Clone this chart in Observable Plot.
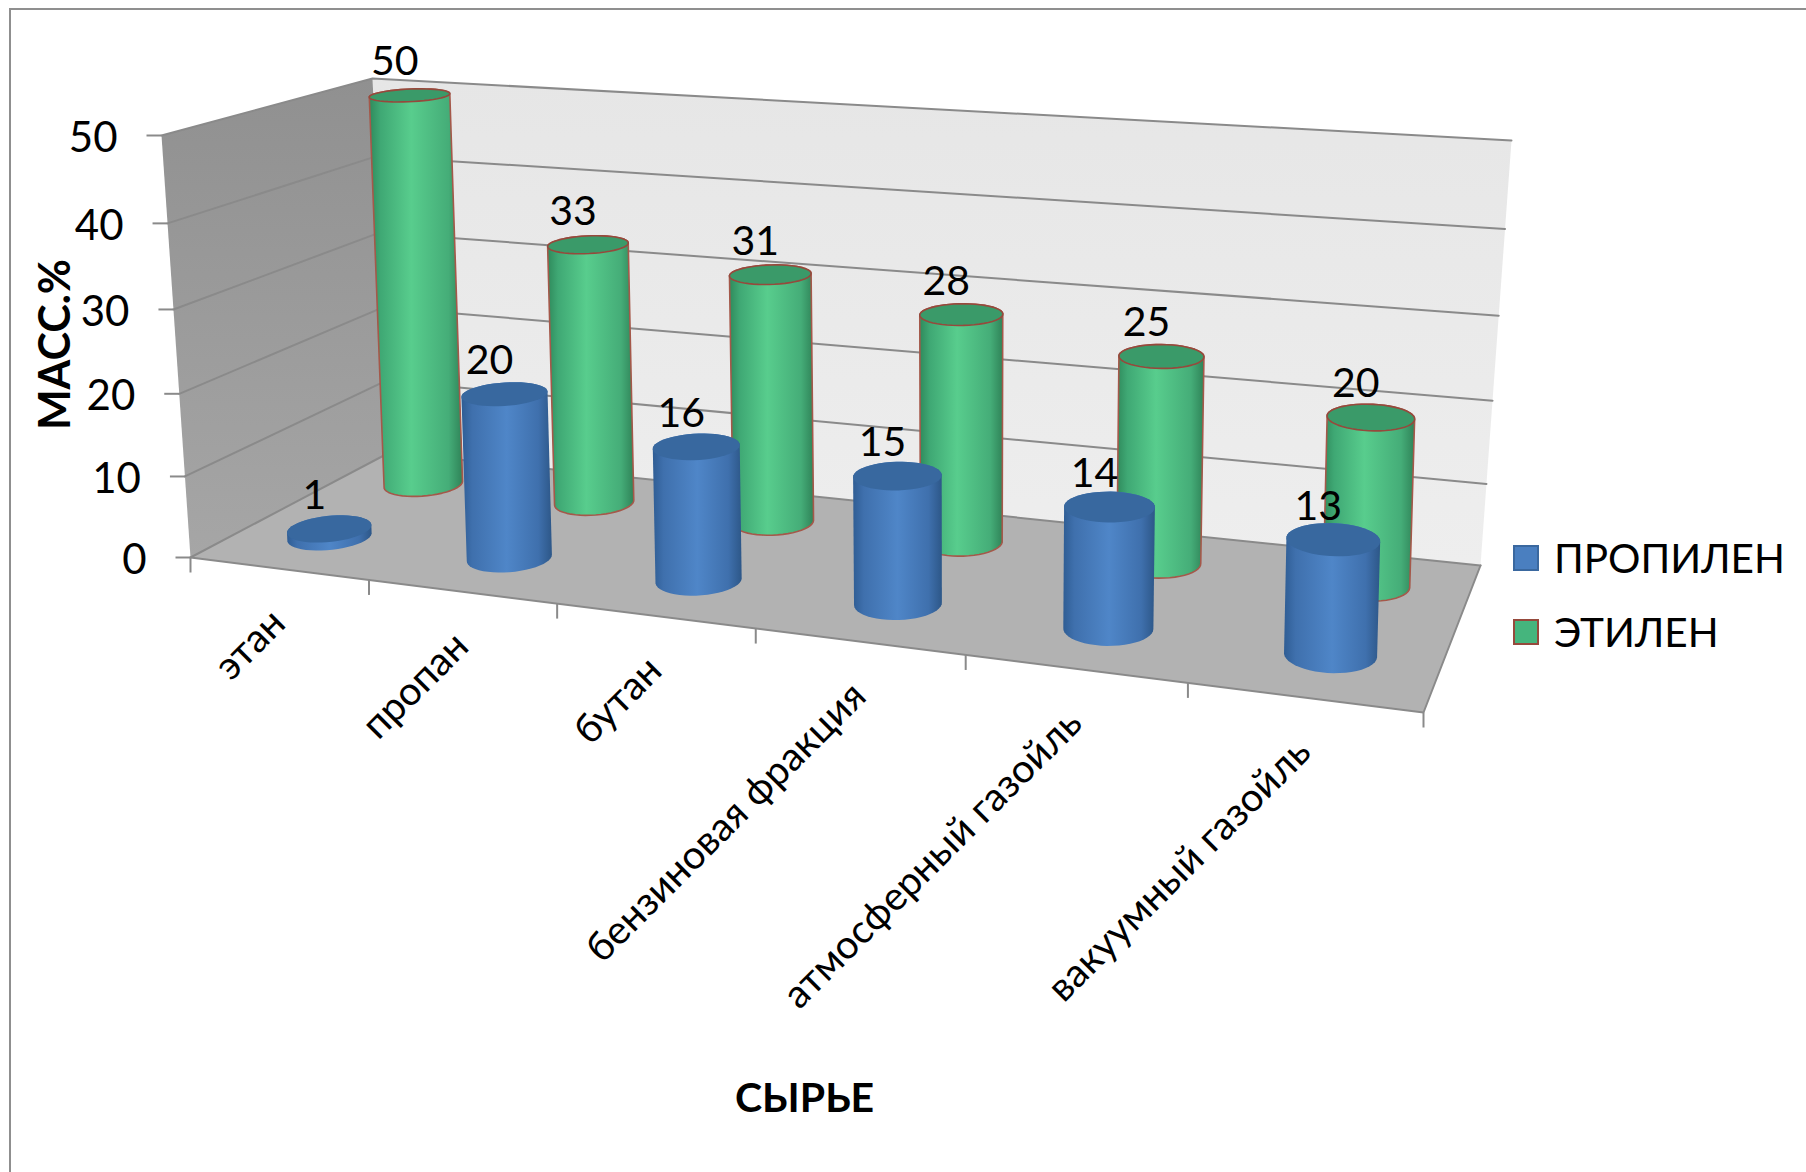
<!DOCTYPE html>
<html lang="ru">
<head>
<meta charset="utf-8">
<script src="https://cdn.jsdelivr.net/npm/d3@7"></script>
<script src="https://cdn.jsdelivr.net/npm/@observablehq/plot@0.6"></script>
<style>
  html, body { margin: 0; padding: 0; background: #fff; overflow: hidden; }
  #page { position: relative; width: 1806px; height: 1172px; overflow: hidden; font-family: Lato, sans-serif; color: #000; }
  #frame { position: absolute; left: 9px; top: 8px; width: 1900px; height: 1300px; border: 2px solid #8f8f8f; }
  #chart { position: absolute; left: 0; top: 0; width: 1806px; height: 1172px; }
  #chart svg { background: transparent; }
  #legend { position: absolute; left: 1513px; top: 521px; font-size: 40.5px; line-height: 74px; }
  .row { display: flex; align-items: center; height: 74px; }
  .sw { width: 26px; height: 26px; margin-right: 15px; box-sizing: border-box; }
</style>
</head>
<body>
<div id="page">
  <div id="frame"></div>
  <div id="chart"></div>
  <div id="legend"></div>
</div>
<script>
const categories = ["этан", "пропан", "бутан", "бензиновая фракция", "атмосферный газойль", "вакуумный газойль"];
const propylene = [1, 20, 16, 15, 14, 13];
const ethylene = [50, 33, 31, 28, 25, 20];
const valueTicks = [0, 10, 20, 30, 40, 50];
const seriesNames = ["ПРОПИЛЕН", "ЭТИЛЕН"];
const xTitle = "СЫРЬЕ";
const yTitle = "МАСС.%";

// View of the 3-D box: where its corners appear on the page.
const floorCorners = [[190, 557], [1423, 712], [1480, 565], [389, 452]];
const roofCorners = [[161, 135], [1455, 232], [1511, 140], [372, 78]];
const depth = {propylene: 0.27, ethylene: 0.76};
const radius = {u: 0.2, d: 0.115};
const lean = {centre: 963, rate: 6.6e-5, spreadCentre: 887, spread: 0.01};
const spacingWarp = 0.03;

function homography([[x0, y0], [x1, y1], [x2, y2], [x3, y3]]) {
  const dx1 = x1 - x2, dx2 = x3 - x2, dx3 = x0 - x1 + x2 - x3;
  const dy1 = y1 - y2, dy2 = y3 - y2, dy3 = y0 - y1 + y2 - y3;
  const den = dx1 * dy2 - dx2 * dy1;
  const g = (dx3 * dy2 - dx2 * dy3) / den;
  const h = (dx1 * dy3 - dx3 * dy1) / den;
  const a = x1 - x0 + g * x1, b = x3 - x0 + h * x3;
  const d = y1 - y0 + g * y1, e = y3 - y0 + h * y3;
  return (s, t) => {
    const w = g * s + h * t + 1;
    return [(a * s + b * t + x0) / w, (d * s + e * t + y0) / w];
  };
}
const floorH = homography(floorCorners);
const roofH = homography(roofCorners);
const maxValue = d3.max(valueTicks);
// u: category position (0..n), d: depth (0 front, 1 back), v: value
function project(u, d, v) {
  const s0 = u / categories.length;
  const s = s0 + spacingWarp * s0 * (1 - s0);
  const [x0, y0] = floorH(s, d);
  const [x1, y1] = roofH(s, d);
  const w = v / maxValue;
  const t = w / (1 + 0.052 * (1 - w));
  return {x: x0 + (x1 - x0) * t, y: y0 + (y1 - y0) * t};
}
// Columns lean less than the walls do.
function columnPoint(u, d, v) {
  const base = project(u, d, 0), p = project(u, d, v);
  const x = base.x + (base.x - lean.spreadCentre) * lean.spread;
  return {x: x + (base.x - lean.centre) * lean.rate * (base.y - p.y), y: p.y};
}
const poly = (corners, options) => Plot.line(corners, {x: "x", y: "y", curve: "linear-closed", ...options});
const circle = (u, d, v) => d3.range(48).map(i => {
  const a = i / 48 * 2 * Math.PI;
  return columnPoint(u + radius.u * Math.cos(a), d + radius.d * Math.sin(a), v);
});
function cylinderMarks(v, i, d, body, cap, stroke) {
  const u = i + 0.5;
  const bottom = circle(u, d, 0), top = circle(u, d, v);
  const hull = d3.polygonHull([...bottom, ...top].map(p => [p.x, p.y])).map(([x, y]) => ({x, y}));
  const s = stroke ? {stroke, strokeWidth: 1.6} : {stroke: "none"};
  return [
    poly(hull, {fill: `url(#${body})`, ...s}),
    poly(top, {fill: cap, ...(stroke ? {stroke: "#96493c", strokeWidth: 1.6} : {stroke: "none"})})
  ];
}
const n = categories.length;
const wallLines = valueTicks.map(v => [project(0, 0, v), project(0, 1, v), project(n, 1, v)]);

const labels = [
  ...ethylene.map((v, i) => ({v, ...columnPoint(i + 0.5, depth.ethylene, v)})),
  ...propylene.map((v, i) => ({v, ...columnPoint(i + 0.5, depth.propylene, v)}))
];
const catLabels = categories.map((c, i) => ({c, ...project(i + 0.5, 0, 0)}));
const catTicks = d3.range(n + 1).map(i => project(i, 0, 0));
const valLabels = valueTicks.map(v => ({v, ...project(0, 0, v)}));
const titleSpots = [
  {t: xTitle, x: 804, y: 1098, rotate: 0},
  {t: yTitle, x: 56, y: 344, rotate: -90}
];

const chart = Plot.plot({
  width: 1806, height: 1172, margin: 0,
  x: {domain: [0, 1806], range: [0, 1806], axis: null},
  y: {domain: [0, 1172], range: [0, 1172], axis: null},
  style: {fontFamily: "Lato, sans-serif", background: "transparent"},
  marks: [
    // walls and floor
    poly([project(0, 1, 0), project(n, 1, 0), project(n, 1, maxValue), project(0, 1, maxValue)], {fill: "url(#backWall)", stroke: "none"}),
    poly([project(0, 0, 0), project(0, 1, 0), project(0, 1, maxValue), project(0, 0, maxValue)], {fill: "url(#sideWall)", stroke: "none"}),
    poly([project(0, 0, 0), project(n, 0, 0), project(n, 1, 0), project(0, 1, 0)], {fill: "#b2b2b2", stroke: "none"}),
    ...wallLines.map(l => Plot.line(l, {x: "x", y: "y", stroke: "#8a8a8a", strokeWidth: 2})),
    Plot.line([project(0, 0, 0), project(n, 0, 0), project(n, 1, 0)], {x: "x", y: "y", stroke: "#8a8a8a", strokeWidth: 2}),
    // ticks
    Plot.link(valLabels, {x1: "x", y1: "y", x2: d => d.x - 15, y2: "y", stroke: "#8a8a8a", strokeWidth: 2}),
    Plot.link(catTicks, {x1: "x", y1: "y", x2: "x", y2: d => d.y + 15, stroke: "#8a8a8a", strokeWidth: 2}),
    // cylinders
    ...ethylene.flatMap((v, i) => cylinderMarks(v, i, depth.ethylene, "gBody", "#3a9a69", "#a5584a")),
    ...propylene.flatMap((v, i) => cylinderMarks(v, i, depth.propylene, "bBody", "#38689f", null)),
    // texts
    Plot.text(labels, {x: "x", y: "y", text: d => String(d.v), dx: -15, dy: -33, fontSize: 41, fill: "#000"}),
    Plot.text(valLabels, {x: "x", y: "y", text: d => String(d.v), dx: -44, dy: 3, fontSize: 42, textAnchor: "end", fill: "#000"}),
    Plot.text(catLabels, {x: "x", y: "y", text: "c", dx: 0, dy: 48, rotate: -45, textAnchor: "end", fontSize: 39.5, fill: "#000"}),
    ...titleSpots.map(s => Plot.text([s], {x: "x", y: "y", text: "t", rotate: s.rotate, fontSize: s.rotate ? 43 : 41, fontWeight: 700, fill: "#000"}))
  ]
});

const defs = d3.select(chart).insert("defs", ":first-child");
function gradient(id, stops, vertical) {
  const g = defs.append("linearGradient").attr("id", id)
    .attr("x1", 0).attr("y1", 0).attr("x2", vertical ? 0 : 1).attr("y2", vertical ? 1 : 0);
  stops.forEach(([o, c]) => g.append("stop").attr("offset", o).attr("stop-color", c));
}
gradient("gBody", [[0, "#2f8a5c"], [0.12, "#3fa874"], [0.45, "#58cd8d"], [0.85, "#45ad78"], [1, "#2f8358"]]);
gradient("bBody", [[0, "#2f5d94"], [0.12, "#3f70ad"], [0.5, "#4f86c8"], [0.85, "#3f70ad"], [1, "#2d5788"]]);
gradient("backWall", [[0, "#e6e6e6"], [1, "#eeeeee"]], true);
gradient("sideWall", [[0, "#909090"], [1, "#a6a6a6"]], true);

document.getElementById("chart").appendChild(chart);

const legendColors = [["#4a7fc0", "#3a689f"], ["#45b57d", "#96493c"]];
d3.select("#legend").selectAll(".row").data(seriesNames).join("div").attr("class", "row")
  .each(function(name, i) {
    d3.select(this).append("div").attr("class", "sw")
      .style("background", legendColors[i][0]).style("border", `2px solid ${legendColors[i][1]}`);
    d3.select(this).append("span").text(name);
  });
</script>
</body>
</html>
